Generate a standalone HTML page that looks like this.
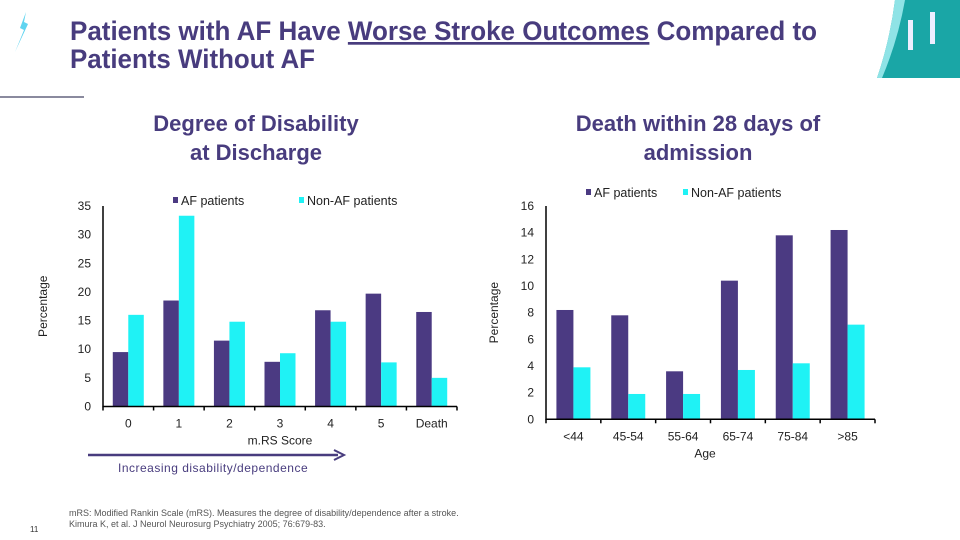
<!DOCTYPE html>
<html><head><meta charset="utf-8"><style>
html,body{margin:0;padding:0;background:#fff;}
svg{display:block;font-family:"Liberation Sans",Arial,sans-serif;}
</style></head><body>
<svg id="s" width="960" height="540" viewBox="0 0 960 540" xmlns="http://www.w3.org/2000/svg">
<g>
<path d="M26 12 L20 28 L24 30 L15 52 L28 24 L24 22 Z" fill="#5fd4f0"/>
<text x="70" y="40" font-size="27" font-weight="bold" fill="#483c7e" textLength="747" lengthAdjust="spacingAndGlyphs">Patients with AF Have <tspan text-decoration="underline">Worse Stroke Outcomes</tspan> Compared to</text>
<text x="70" y="68" font-size="27" font-weight="bold" fill="#483c7e" textLength="245" lengthAdjust="spacingAndGlyphs">Patients Without AF</text>
<line x1="0" y1="97" x2="84" y2="97" stroke="#8a8a9e" stroke-width="2"/>
<g>
<path d="M895 0 L960 0 L960 78 L877 78 Q890 40 895 0 Z" fill="#1aa6a6"/>
<path d="M895 0 L905 0 Q898 40 882 78 L877 78 Q890 40 895 0 Z" fill="#8fe3e6"/>
<rect x="908" y="20" width="5" height="30" fill="#eef"/>
<rect x="930" y="12" width="5" height="32" fill="#eef"/>
</g>
</g>
<text x="256" y="131" font-size="22" font-weight="bold" fill="#483c7e" text-anchor="middle">Degree of Disability</text>
<text x="256" y="160" font-size="22" font-weight="bold" fill="#483c7e" text-anchor="middle">at Discharge</text>
<text x="698" y="131" font-size="22" font-weight="bold" fill="#483c7e" text-anchor="middle">Death within 28 days of</text>
<text x="698" y="160" font-size="22" font-weight="bold" fill="#483c7e" text-anchor="middle">admission</text>
<g id="left"></g>
<g id="right"></g>
<g>
<line x1="88" y1="455" x2="338" y2="455" stroke="#483c7e" stroke-width="2.5"/>
<path d="M334 450 L344 455 L334 460" fill="none" stroke="#483c7e" stroke-width="2"/>
</g>
<text x="118" y="472" font-size="12" fill="#483c7e" letter-spacing="0.5">Increasing disability/dependence</text>
<text x="69" y="516" font-size="9" fill="#555">mRS: Modified Rankin Scale (mRS). Measures the degree of disability/dependence after a stroke.</text>
<text x="69" y="527" font-size="9" fill="#555">Kimura K, et al. J Neurol Neurosurg Psychiatry 2005; 76:679-83.</text>
<text x="30" y="532" font-size="8" fill="#333">11</text>
</svg>
<script>
const leftCats=["0","1","2","3","4","5","Death"];
const leftAF=[9.5,18.5,11.5,7.8,16.8,19.7,16.5];
const leftNon=[16,33.3,14.8,9.3,14.8,7.7,5];
const leftTicks=[0,5,10,15,20,25,30,35];
const rightCats=["<44","45-54","55-64","65-74","75-84",">85"];
const rightAF=[8.2,7.8,3.6,10.4,13.8,14.2];
const rightNon=[3.9,1.9,1.9,3.7,4.2,7.1];
const rightTicks=[0,2,4,6,8,10,12,14,16];
const NS="http://www.w3.org/2000/svg";
function mk(p,t,a,txt){const e=document.createElementNS(NS,t);for(const k in a)e.setAttribute(k,a[k]);if(txt!==undefined)e.textContent=txt;p.appendChild(e);return e;}
function chart(g,o){
  const y=v=>o.y0-(v/o.max)*(o.y0-o.yTop);
  const slot=(o.x1-o.x0)/o.cats.length;
  const x=i=>o.x0+slot*i;
  o.ticks.forEach(t=>{
    const e=mk(g,"text",{x:o.x0-12,y:y(t)+4,"font-size":12,fill:"#222","text-anchor":"end"},String(t));
    
    
  });
  o.cats.forEach((c,i)=>{
    const cx=x(i)+slot/2;
    const a=mk(g,"rect",{x:cx-o.bw,y:y(o.af[i]),width:o.bw,height:o.y0-y(o.af[i]),fill:"#4b3a82"});
    
    
    const b=mk(g,"rect",{x:cx,y:y(o.non[i]),width:o.bw,height:o.y0-y(o.non[i]),fill:"#1ff2f5"});
    
    
    const l=mk(g,"text",{x:cx,y:o.y0+21,"font-size":12,fill:"#222","text-anchor":"middle"},c);
    
    
  });
  const ax=mk(g,"path",{d:`M${o.x0} ${o.yTop} V${o.y0} H${o.x1}`,fill:"none",stroke:"#000","stroke-width":1.5});
  
  
  for(let i=0;i<=o.cats.length;i++){mk(g,"line",{x1:x(i),y1:o.y0,x2:x(i),y2:o.y0+4,stroke:"#000","stroke-width":1.5});}
  const yt=mk(g,"text",{transform:`translate(${o.ylx},${(o.y0+o.yTop)/2}) rotate(-90)`,"font-size":12,fill:"#222","text-anchor":"middle"},"Percentage");
  
  
  const xt=mk(g,"text",{x:o.xtx,y:o.y0+38,"font-size":12,fill:"#222","text-anchor":"middle"},o.xTitle);
  
  
  const l1=mk(g,"rect",{x:o.lx,y:o.ly-8,width:5,height:6,fill:"#4b3a82"});
  
  
  const t1=mk(g,"text",{x:o.lx+8,y:o.ly,"font-size":12.5,fill:"#222"},"AF patients");
  
  
  const l2=mk(g,"rect",{x:o.lx2,y:o.ly-8,width:5,height:6,fill:"#1ff2f5"});
  
  
  const t2=mk(g,"text",{x:o.lx2+8,y:o.ly,"font-size":12.5,fill:"#222"},"Non-AF patients");
  
  
}
chart(document.getElementById("left"),{cats:leftCats,af:leftAF,non:leftNon,ticks:leftTicks,max:35,x0:103,x1:457,y0:406.5,yTop:206,bw:15.5,ylx:47,xtx:280,xTitle:"m.RS Score",lx:173,lx2:299,ly:205});
chart(document.getElementById("right"),{cats:rightCats,af:rightAF,non:rightNon,ticks:rightTicks,max:16,x0:546,x1:875,y0:419.3,yTop:206,bw:17,ylx:498,xtx:705,xTitle:"Age",lx:586,lx2:683,ly:197});
</script>
</body></html>
